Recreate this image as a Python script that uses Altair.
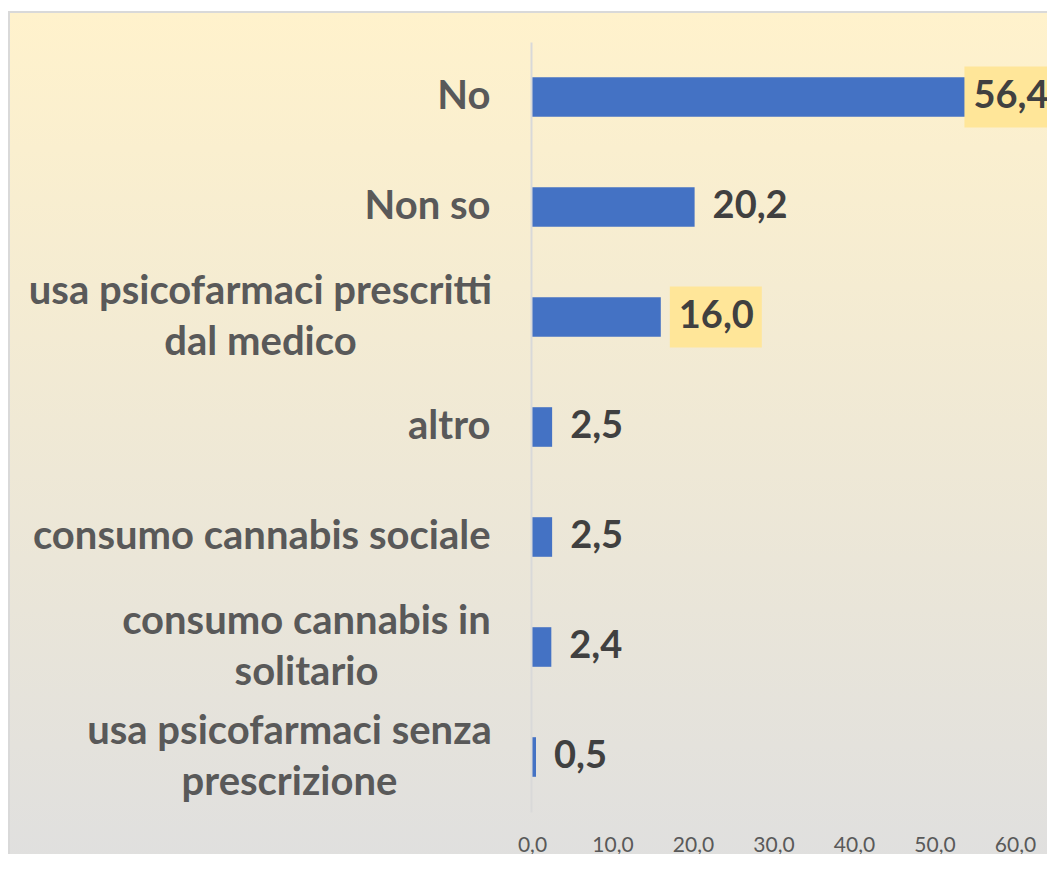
import altair as alt
import pandas as pd

CATEGORIES = [
    "No",
    "Non so",
    "usa psicofarmaci prescritti\ndal medico",
    "altro",
    "consumo cannabis sociale",
    "consumo cannabis in\nsolitario",
    "usa psicofarmaci senza\nprescrizione",
]
VALUES = [56.4, 20.2, 16.0, 2.5, 2.5, 2.4, 0.5]
TICKS = [0, 10, 20, 30, 40, 50, 60]
HIGHLIGHTED = ["No", "usa psicofarmaci prescritti\ndal medico"]

df = pd.DataFrame({"cat": CATEGORIES, "value": VALUES})
df["hl"] = df["cat"].isin(HIGHLIGHTED)

W, H = 483, 770
FONT = "Lato"
MULTI = "length(split(datum.value, '\\n')) > 1"

x_scale = alt.Scale(domain=[0, 60], nice=False, zero=True)
x_axis = alt.Axis(
    values=TICKS,
    labelExpr="replace(format(datum.value, '.1f'), '.', ',')",
    labelFont=FONT, labelFontSize=21, labelColor="#595959",
    labelPadding=22, labelFlush=False, labelOverlap=False,
    ticks=False, tickSize=0, domain=False, grid=False, zindex=2,
)
y_enc = alt.Y(
    "cat:N", sort=CATEGORIES, title=None,
    scale=alt.Scale(paddingInner=0.64, paddingOuter=0.32),
    axis=alt.Axis(
        labelExpr="split(datum.label, '\\n')",
        labelFont=FONT, labelFontSize=40, labelFontWeight="bold",
        labelColor="#595959", labelLineHeight=51,
        labelPadding={
            "condition": [
                {"test": "indexof(datum.value, 'dal medico') >= 0", "value": 271},
                {"test": "indexof(datum.value, 'solitario') >= 0", "value": 225},
                {"test": "indexof(datum.value, 'prescrizione') >= 0", "value": 242},
            ],
            "value": 41,
        },
        labelAlign={"condition": {"test": MULTI, "value": "center"}, "value": "right"},
        labelOffset={"condition": {"test": MULTI, "value": -25}, "value": 0},
        labelBaseline="middle",
        ticks=False, tickSize=0, domainColor="#D9D9D9", domainWidth=2,
        offset=1, labelLimit=700, grid=False, zindex=2,
    ),
)

bg = alt.Chart(alt.Data(values=[{}])).mark_rect(
    fill=alt.Gradient(
        gradient="linear",
        stops=[alt.GradientStop(color="#FFF2CC", offset=0),
               alt.GradientStop(color="#DFDFDF", offset=1)],
        x1=0, y1=0, x2=0, y2=1,
    ),
    stroke="#D9D9D9", strokeWidth=2,
).encode(
    x=alt.value(-523), x2=alt.value(W + 120),
    y=alt.value(-30), y2=alt.value(H + 70),
)

base = alt.Chart(df).transform_calculate(
    lx="min(datum.value, 52.6)",
    txt="replace(format(datum.value, '.1f'), '.', ',')",
)

bars = base.mark_bar(color="#4472C4").encode(
    x=alt.X("value:Q", scale=x_scale, axis=x_axis, title=None),
    y=y_enc,
)

boxes = base.transform_filter("datum.hl").mark_point(
    shape="M-1,-0.663L1,-0.663L1,0.663L-1,0.663Z",
    size=8464, filled=True, fill="#FFE699", opacity=1, strokeWidth=0,
    xOffset=55,
).encode(
    x=alt.X("lx:Q", scale=x_scale, axis=x_axis, title=None),
    y=y_enc,
)

labels = base.mark_text(
    align="left", baseline="middle", dx=18,
    font=FONT, fontSize=38, fontWeight="bold", color="#404040",
).encode(
    x=alt.X("lx:Q", scale=x_scale, axis=x_axis, title=None),
    y=y_enc,
    text="txt:N",
)

chart = alt.layer(bg, bars, boxes, labels).properties(
    width=W, height=H,
    autosize=alt.AutoSizeParams(type="none"),
    padding={"left": 524, "top": 34, "right": 32, "bottom": 42},
).configure_view(stroke=None)

chart.save("out.html", embed_options={"renderer": "svg", "actions": False})
